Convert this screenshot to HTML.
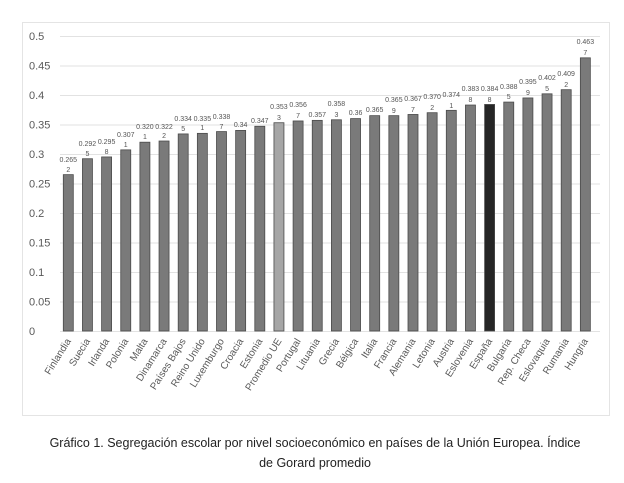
<!DOCTYPE html>
<html><head><meta charset="utf-8"><style>
html,body{margin:0;padding:0;background:#fff;}
svg{display:block;font-family:"Liberation Sans",sans-serif;}
</style></head><body>
<svg width="624" height="483" viewBox="0 0 624 483" xmlns="http://www.w3.org/2000/svg">
<rect x="22.5" y="22.5" width="587" height="393" fill="#fff" stroke="#e4e4e4"/>
<g stroke="#e2e2e2" stroke-width="1">
<line x1="60" x2="600" y1="331.5" y2="331.5"/><line x1="60" x2="600" y1="302" y2="302"/>
<line x1="60" x2="600" y1="272.5" y2="272.5"/><line x1="60" x2="600" y1="243" y2="243"/>
<line x1="60" x2="600" y1="213.5" y2="213.5"/><line x1="60" x2="600" y1="184" y2="184"/>
<line x1="60" x2="600" y1="154.5" y2="154.5"/><line x1="60" x2="600" y1="125" y2="125"/>
<line x1="60" x2="600" y1="95.5" y2="95.5"/><line x1="60" x2="600" y1="66" y2="66"/>
<line x1="60" x2="600" y1="36.5" y2="36.5"/>
</g>
<g font-size="11" fill="#595959">
<text x="29" y="335">0</text><text x="29" y="305.5">0.05</text><text x="29" y="276">0.1</text>
<text x="29" y="246.5">0.15</text><text x="29" y="217">0.2</text><text x="29" y="187.5">0.25</text>
<text x="29" y="158">0.3</text><text x="29" y="128.5">0.35</text><text x="29" y="99">0.4</text>
<text x="29" y="69.5">0.45</text><text x="29" y="40">0.5</text>
</g>
<g fill="#7a7a7a" stroke="#4a4a4a" stroke-width="0.8">
<rect x="63.3" y="174.65" width="10" height="156.35"/>
<rect x="82.45" y="158.72" width="10" height="172.28"/>
<rect x="101.6" y="156.95" width="10" height="174.05"/>
<rect x="120.75" y="149.87" width="10" height="181.13"/>
<rect x="139.9" y="142.2" width="10" height="188.8"/>
<rect x="159.05" y="141.02" width="10" height="189.98"/>
<rect x="178.2" y="133.94" width="10" height="197.06"/>
<rect x="197.35" y="133.35" width="10" height="197.65"/>
<rect x="216.5" y="131.58" width="10" height="199.42"/>
<rect x="235.65" y="130.4" width="10" height="200.6"/>
<rect x="254.8" y="126.27" width="10" height="204.73"/>
<rect x="273.95" y="122.73" width="10" height="208.27" fill="#a6a6a6"/>
<rect x="293.1" y="120.96" width="10" height="210.04"/>
<rect x="312.25" y="120.37" width="10" height="210.63"/>
<rect x="331.4" y="119.78" width="10" height="211.22"/>
<rect x="350.55" y="118.6" width="10" height="212.4"/>
<rect x="369.7" y="115.65" width="10" height="215.35"/>
<rect x="388.85" y="115.65" width="10" height="215.35"/>
<rect x="408" y="114.47" width="10" height="216.53"/>
<rect x="427.15" y="112.7" width="10" height="218.3"/>
<rect x="446.3" y="110.34" width="10" height="220.66"/>
<rect x="465.45" y="105.03" width="10" height="225.97"/>
<rect x="484.6" y="104.44" width="10" height="226.56" fill="#262626"/>
<rect x="503.75" y="102.08" width="10" height="228.92"/>
<rect x="522.9" y="97.95" width="10" height="233.05"/>
<rect x="542.05" y="93.82" width="10" height="237.18"/>
<rect x="561.2" y="89.69" width="10" height="241.31"/>
<rect x="580.35" y="57.83" width="10" height="273.17"/>
</g>
<g font-size="7" fill="#555" text-anchor="middle">
<text x="68.3" y="162">0.265</text><text x="68.3" y="172">2</text>
<text x="87.45" y="146">0.292</text><text x="87.45" y="156">5</text>
<text x="106.6" y="144">0.295</text><text x="106.6" y="154">8</text>
<text x="125.75" y="137">0.307</text><text x="125.75" y="147">1</text>
<text x="144.9" y="129">0.320</text><text x="144.9" y="139">1</text>
<text x="164.05" y="129">0.322</text><text x="164.05" y="138">2</text>
<text x="183.2" y="121">0.334</text><text x="183.2" y="131">5</text>
<text x="202.35" y="121">0.335</text><text x="202.35" y="130">1</text>
<text x="221.5" y="119">0.338</text><text x="221.5" y="129">7</text>
<text x="240.65" y="127">0.34</text>
<text x="259.8" y="123">0.347</text>
<text x="278.95" y="109">0.353</text><text x="278.95" y="120">3</text>
<text x="298.1" y="107">0.356</text><text x="298.1" y="118">7</text>
<text x="317.25" y="117">0.357</text>
<text x="336.4" y="106">0.358</text><text x="336.4" y="117">3</text>
<text x="355.55" y="115">0.36</text>
<text x="374.7" y="112">0.365</text>
<text x="393.85" y="102">0.365</text><text x="393.85" y="113">9</text>
<text x="413" y="101">0.367</text><text x="413" y="112">7</text>
<text x="432.15" y="99">0.370</text><text x="432.15" y="110">2</text>
<text x="451.3" y="97">0.374</text><text x="451.3" y="108">1</text>
<text x="470.45" y="91">0.383</text><text x="470.45" y="102">8</text>
<text x="489.6" y="91">0.384</text><text x="489.6" y="102">8</text>
<text x="508.75" y="89">0.388</text><text x="508.75" y="99">5</text>
<text x="527.9" y="84">0.395</text><text x="527.9" y="95">9</text>
<text x="547.05" y="80">0.402</text><text x="547.05" y="91">5</text>
<text x="566.2" y="76">0.409</text><text x="566.2" y="87">2</text>
<text x="585.35" y="44">0.463</text><text x="585.35" y="55">7</text>
</g>
<g font-size="10" fill="#595959" text-anchor="end">
<text transform="translate(71.3,341) rotate(-58)">Finlandia</text>
<text transform="translate(90.45,341) rotate(-58)">Suecia</text>
<text transform="translate(109.6,341) rotate(-58)">Irlanda</text>
<text transform="translate(128.75,341) rotate(-58)">Polonia</text>
<text transform="translate(147.9,341) rotate(-58)">Malta</text>
<text transform="translate(167.05,341) rotate(-58)">Dinamarca</text>
<text transform="translate(186.2,341) rotate(-58)">Países Bajos</text>
<text transform="translate(205.35,341) rotate(-58)">Reino Unido</text>
<text transform="translate(224.5,341) rotate(-58)">Luxemburgo</text>
<text transform="translate(243.65,341) rotate(-58)">Croacia</text>
<text transform="translate(262.8,341) rotate(-58)">Estonia</text>
<text transform="translate(281.95,341) rotate(-58)">Promedio UE</text>
<text transform="translate(301.1,341) rotate(-58)">Portugal</text>
<text transform="translate(320.25,341) rotate(-58)">Lituania</text>
<text transform="translate(339.4,341) rotate(-58)">Grecia</text>
<text transform="translate(358.55,341) rotate(-58)">Bélgica</text>
<text transform="translate(377.7,341) rotate(-58)">Italia</text>
<text transform="translate(396.85,341) rotate(-58)">Francia</text>
<text transform="translate(416,341) rotate(-58)">Alemania</text>
<text transform="translate(435.15,341) rotate(-58)">Letonia</text>
<text transform="translate(454.3,341) rotate(-58)">Austria</text>
<text transform="translate(473.45,341) rotate(-58)">Eslovenia</text>
<text transform="translate(492.6,341) rotate(-58)">España</text>
<text transform="translate(511.75,341) rotate(-58)">Bulgaria</text>
<text transform="translate(530.9,341) rotate(-58)">Rep. Checa</text>
<text transform="translate(550.05,341) rotate(-58)">Eslovaquia</text>
<text transform="translate(569.2,341) rotate(-58)">Rumania</text>
<text transform="translate(588.35,341) rotate(-58)">Hungria</text>
</g>
<text x="315" y="447" text-anchor="middle" font-size="12.5" fill="#222">Gráfico 1. Segregación escolar por nivel socioeconómico en países de la Unión Europea. Índice</text>
<text x="315" y="467" text-anchor="middle" font-size="12.5" fill="#222">de Gorard promedio</text>
</svg>
</body></html>
